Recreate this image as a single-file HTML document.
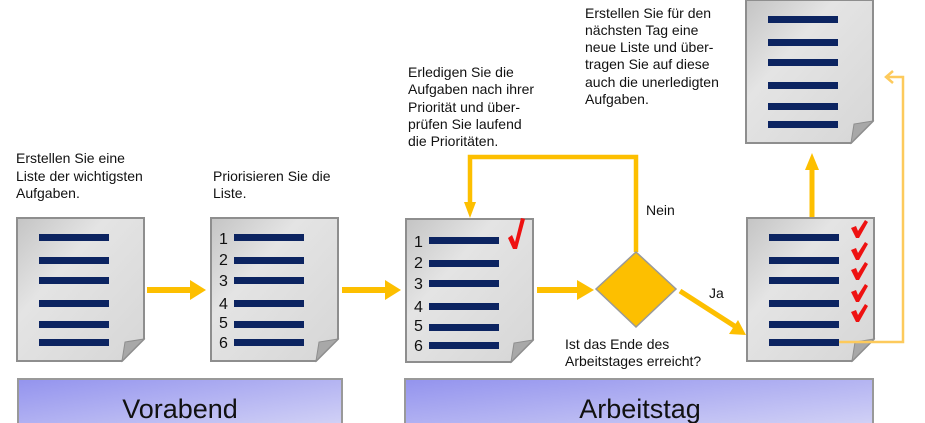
<!DOCTYPE html>
<html><head><meta charset="utf-8"><style>
html,body{margin:0;padding:0;background:#fff;width:925px;height:423px;overflow:hidden}
text{font-family:"Liberation Sans",Arial,sans-serif}
</style></head><body>
<svg width="925" height="423" viewBox="0 0 925 423" xmlns="http://www.w3.org/2000/svg">
<defs>
<linearGradient id="pg" x1="0" y1="0" x2="1" y2="1">
<stop offset="0" stop-color="#c4c4c4"/><stop offset="0.35" stop-color="#e4e4e4"/><stop offset="1" stop-color="#d6d6d6"/>
</linearGradient>
<linearGradient id="bg" x1="0" y1="0" x2="1" y2="1">
<stop offset="0" stop-color="#9393ee"/><stop offset="1" stop-color="#d4d4f6"/>
</linearGradient>
<g id="doc">
<path d="M0 0 H127 V121 L105 143 H0 Z" fill="url(#pg)" stroke="#8e8e8e" stroke-width="2"/>
<path d="M105 143 L108 124 L127 121 Z" fill="#a8a8a8" stroke="#8e8e8e" stroke-width="1"/>
</g>
<g id="lines" fill="#0c2461">
<rect x="0" y="16" width="70" height="7"/><rect x="0" y="39" width="70" height="7"/>
<rect x="0" y="59" width="70" height="7"/><rect x="0" y="82" width="70" height="7"/>
<rect x="0" y="103" width="70" height="7"/><rect x="0" y="121" width="70" height="7"/>
</g>
<g id="nums" font-size="16" fill="#111">
<text x="0" y="26">1</text><text x="0" y="47">2</text><text x="0" y="68">3</text>
<text x="0" y="91">4</text><text x="0" y="110">5</text><text x="0" y="130">6</text>
</g>
<path id="chk" d="M0 8 L5 6 L7 11 L14 0 L17 2 L8 18 L5 18 Z" fill="#ee1111"/>
</defs>

<use href="#doc" x="17" y="218"/><use href="#lines" x="39" y="218"/>
<use href="#doc" x="211" y="218"/><use href="#lines" x="234" y="218"/><use href="#nums" x="219" y="218"/>
<use href="#doc" x="406" y="219"/><use href="#lines" x="429" y="221"/><use href="#nums" x="414" y="221"/>
<use href="#doc" x="747" y="218"/><use href="#lines" x="769" y="218"/>
<use href="#doc" x="746" y="0"/><use href="#lines" x="768" y="0"/>
<rect x="745" y="-5" width="129" height="5" fill="#fff"/>
<path d="M746 0 H873" stroke="#8e8e8e" stroke-width="2"/>

<path d="M508 238 L512 235 L515 242 L521 218 L525 219 L517 249 L513 249 Z" fill="#ee1111"/>
<use href="#chk" x="851" y="220"/><use href="#chk" x="851" y="242"/><use href="#chk" x="851" y="262"/>
<use href="#chk" x="851" y="284"/><use href="#chk" x="851" y="304"/>

<g fill="#fdbf00">
<rect x="147" y="287" width="45" height="6"/><path d="M190 280 L206 290 L190 300 Z"/>
<rect x="342" y="287" width="45" height="6"/><path d="M385 280 L401 290 L385 300 Z"/>
<rect x="537" y="287" width="42" height="6"/><path d="M577 280 L594 290 L577 300 Z"/>
<path d="M464 202 L476 202 L470 218 Z"/>
<path d="M805 170 L819 170 L812 153 Z"/>
<path d="M738 320 L746 335 L729 334 Z"/>
</g>
<path d="M636 252 V157 H470 V204" fill="none" stroke="#fdbf00" stroke-width="4.5"/>
<path d="M812 217 V168" stroke="#fdbf00" stroke-width="5"/>
<path d="M680 291 L736 327" stroke="#fdbf00" stroke-width="5"/>
<path d="M839 342 H903 V77 H886 M893 71 L886 77 L893 83" fill="none" stroke="#fdca5c" stroke-width="2.5"/>

<path d="M636 252 L676 289 L636 327 L596 289 Z" fill="#fdbf00" stroke="#999" stroke-width="1.5"/>

<rect x="18" y="379" width="324" height="50" fill="url(#bg)" stroke="#999" stroke-width="2"/>
<rect x="405" y="379" width="468" height="50" fill="url(#bg)" stroke="#999" stroke-width="2"/>
<text x="180" y="418" font-size="27" text-anchor="middle" fill="#111">Vorabend</text>
<text x="640" y="418" font-size="27" text-anchor="middle" fill="#111">Arbeitstag</text>

<g font-size="14" fill="#111">
<text x="16" y="163">Erstellen Sie eine</text>
<text x="16" y="181">Liste der wichtigsten</text>
<text x="16" y="198">Aufgaben.</text>
<text x="213" y="181">Priorisieren Sie die</text>
<text x="213" y="198">Liste.</text>
<text x="408" y="77">Erledigen Sie die</text>
<text x="408" y="94">Aufgaben nach ihrer</text>
<text x="408" y="112">Priorität und über-</text>
<text x="408" y="129">prüfen Sie laufend</text>
<text x="408" y="146">die Prioritäten.</text>
<text x="585" y="18">Erstellen Sie für den</text>
<text x="585" y="35">nächsten Tag eine</text>
<text x="585" y="52">neue Liste und über-</text>
<text x="585" y="69">tragen Sie auf diese</text>
<text x="585" y="87">auch die unerledigten</text>
<text x="585" y="104">Aufgaben.</text>
<text x="646" y="215">Nein</text>
<text x="709" y="298">Ja</text>
<text x="565" y="349">Ist das Ende des</text>
<text x="565" y="366">Arbeitstages erreicht?</text>
</g>
</svg>
</body></html>
